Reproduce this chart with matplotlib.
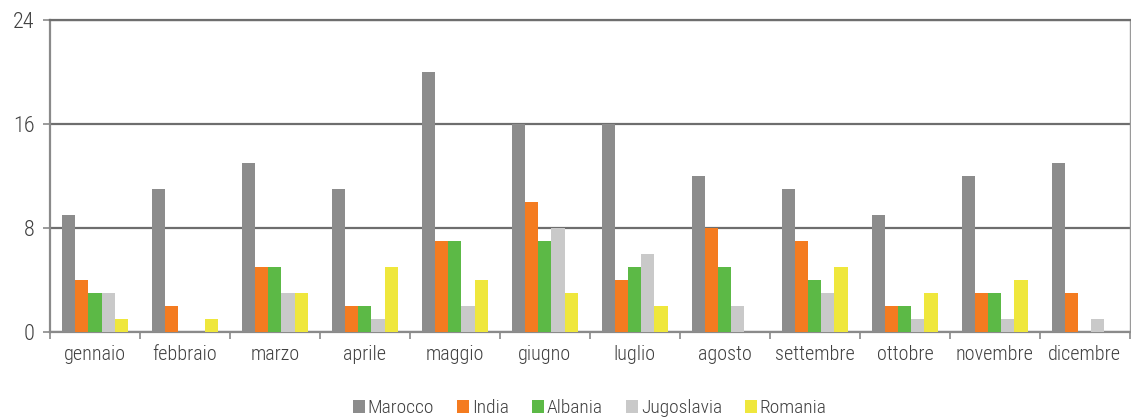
import matplotlib.pyplot as plt
from matplotlib import font_manager
import numpy as np

months = ["gennaio", "febbraio", "marzo", "aprile", "maggio", "giugno",
          "luglio", "agosto", "settembre", "ottobre", "novembre", "dicembre"]
countries = ["Marocco", "India", "Albania", "Jugoslavia", "Romania"]

marocco = [9, 11, 13, 11, 20, 16, 16, 12, 11, 9, 12, 13]
india = [4, 2, 5, 2, 7, 10, 4, 8, 7, 2, 3, 3]
albania = [3, 0, 5, 2, 7, 7, 5, 5, 4, 2, 3, 0]
jugoslavia = [3, 0, 3, 1, 2, 8, 6, 2, 3, 1, 1, 1]
romania = [1, 1, 3, 5, 4, 3, 2, 0, 5, 3, 4, 0]

series = [marocco, india, albania, jugoslavia, romania]
colors = ["#8c8c8c", "#f47b20", "#5cb946", "#c9c9c9", "#efe73c"]

# pick a narrow face if one is around
names = {f.name for f in font_manager.fontManager.ttflist}
for fam in ["Liberation Sans Narrow", "Roboto Condensed", "Roboto"]:
    if fam in names:
        break
else:
    fam = "DejaVu Sans"
plt.rcParams["font.family"] = [fam, "DejaVu Sans"]
plt.rcParams["font.weight"] = "light"
text_color = "#404040"
axis_color = "#8a8a8a"

fig = plt.figure(figsize=(11.31, 4.18), dpi=100)
ax = fig.add_axes([0.0442, 0.2057, 0.9548, 0.7464])

x = np.arange(len(months))
w = 0.145
for i, (vals, c, name) in enumerate(zip(series, colors, countries)):
    ax.bar(x + (i - 2) * w, vals, width=w, color=c, label=name, zorder=3)

ax.set_xlim(-0.5, len(months) - 0.5)
ax.set_ylim(0, 24)
ax.set_yticks([0, 8, 16, 24])
ax.grid(axis="y", color="#6e6e6e", linewidth=1.6, zorder=1)

# category labels centred, tick marks between groups
ax.set_xticks(x)
ax.set_xticklabels(months, fontsize=14.5, color=text_color)
ax.tick_params(axis="x", length=0, pad=9)
ax.set_xticks(np.arange(-0.5, len(months)), minor=True)
ax.tick_params(axis="x", which="minor", length=5, color=axis_color, width=1.2)
ax.tick_params(axis="y", labelsize=16, colors=text_color, length=5, width=1.2, pad=6)
ax.tick_params(axis="y", color=axis_color)

for side in ["left", "bottom"]:
    ax.spines[side].set_color(axis_color)
    ax.spines[side].set_linewidth(1.6)
ax.spines["top"].set_color("#6e6e6e")
ax.spines["top"].set_linewidth(1.6)
ax.spines["right"].set_color("#9a9a9a")
ax.spines["right"].set_linewidth(1.0)

ax.legend(loc="lower center", bbox_to_anchor=(0.5, -0.33), ncol=5,
          frameon=False, fontsize=14, handlelength=0.6, handleheight=0.6,
          handletextpad=0.15, columnspacing=1.2, labelcolor=text_color)

fig.savefig("out.png", dpi=100)
